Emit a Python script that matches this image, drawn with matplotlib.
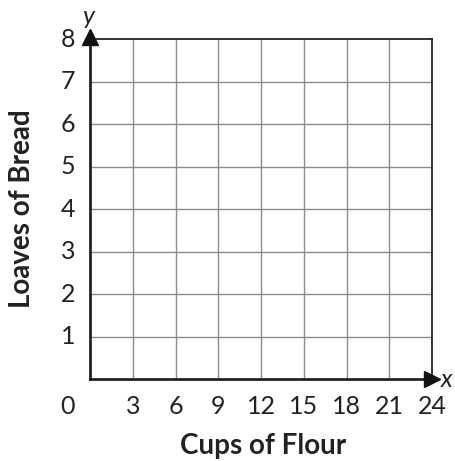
import matplotlib
matplotlib.use('Agg')
import matplotlib.pyplot as plt

# axis setup
x_max = 24
y_max = 8
x_ticks = [3, 6, 9, 12, 15, 18, 21, 24]
y_ticks = [1, 2, 3, 4, 5, 6, 7, 8]
x_label = 'Cups of Flour'
y_label = 'Loaves of Bread'

plt.rcParams['font.family'] = ['Lato', 'DejaVu Sans']

W, H = 455, 461
fig = plt.figure(figsize=(W / 100, H / 100), dpi=100)
ax = fig.add_axes([90 / W, (H - 379) / H, 342 / W, 340 / H])

ax.set_xlim(0, x_max)
ax.set_ylim(0, y_max)

# grid
for xv in x_ticks[:-1]:
    ax.axvline(xv, color='#8c8c8c', lw=1.0, zorder=1)
for yv in y_ticks[:-1]:
    ax.axhline(yv, color='#8c8c8c', lw=1.0, zorder=1)

for side in ['top', 'right']:
    ax.spines[side].set_linewidth(1.3)
    ax.spines[side].set_color('#222222')
for side in ['left', 'bottom']:
    ax.spines[side].set_linewidth(2.0)
    ax.spines[side].set_color('#222222')

# arrow heads
ax.plot(x_max, 0, marker='>', color='#111111', markersize=11, clip_on=False, zorder=5)
ax.plot(0, y_max + 0.04, marker='^', color='#111111', markersize=11, clip_on=False, zorder=5)

ax.set_xticks([])
ax.set_yticks([])

fs = 18
for xv in x_ticks:
    ax.text(xv, -0.64, str(xv), ha='center', va='center', fontsize=fs, color='#222222')
ax.text(-1.55, -0.64, '0', ha='center', va='center', fontsize=fs, color='#222222')
for yv in y_ticks:
    ax.text(-1.55, yv, str(yv), ha='center', va='center', fontsize=fs, color='#222222')

ax.text(x_max + 1.05, 0, 'x', ha='center', va='center', fontsize=fs, style='italic', color='#222222')
ax.text(-0.15, y_max + 0.52, 'y', ha='center', va='center', fontsize=fs, style='italic', color='#222222')

fig.text(263 / W, 1 - 446 / H, x_label, ha='center', va='center', fontsize=20, fontweight='bold', color='#222222')
fig.text(22 / W, 1 - 209 / H, y_label, ha='center', va='center', rotation=90, fontsize=20, fontweight='bold', color='#222222')

fig.savefig('out.png', dpi=100)
